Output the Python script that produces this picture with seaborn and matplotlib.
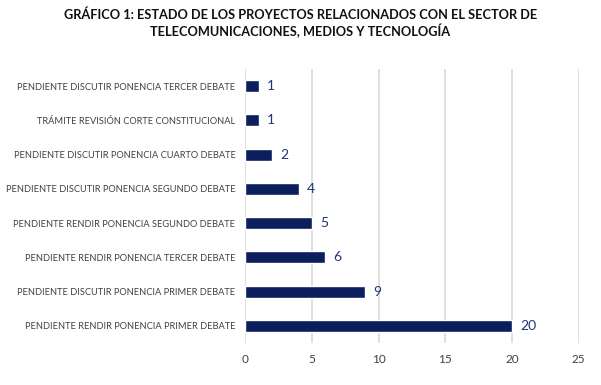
import matplotlib
matplotlib.use("Agg")
import matplotlib.pyplot as plt
import pandas as pd
import seaborn as sns

# data (top to bottom as shown)
categories = [
    "PENDIENTE DISCUTIR PONENCIA TERCER DEBATE",
    "TRÁMITE REVISIÓN CORTE CONSTITUCIONAL",
    "PENDIENTE DISCUTIR PONENCIA CUARTO DEBATE",
    "PENDIENTE DISCUTIR PONENCIA SEGUNDO DEBATE",
    "PENDIENTE RENDIR PONENCIA SEGUNDO DEBATE",
    "PENDIENTE RENDIR PONENCIA TERCER DEBATE",
    "PENDIENTE DISCUTIR PONENCIA PRIMER DEBATE",
    "PENDIENTE RENDIR PONENCIA PRIMER DEBATE",
]
counts = [1, 1, 2, 4, 5, 6, 9, 20]
xticks = [0, 5, 10, 15, 20, 25]

df = pd.DataFrame({"estado": categories, "proyectos": counts})

sns.set_theme(style="white")
plt.rcParams["font.family"] = ["Lato", "DejaVu Sans"]

fig = plt.figure(figsize=(6.01, 3.85), dpi=100)
ax = fig.add_axes([0.408, 0.109, 0.555, 0.712])

sns.barplot(data=df, y="estado", x="proyectos", orient="h",
            color="#0B1F5C", width=0.35, saturation=1, ax=ax, zorder=3)

for i, v in enumerate(counts):
    ax.text(v + 0.6, i, str(v), va="center", ha="left",
            fontsize=10, color="#1F3570")

ax.set_xlim(0, 25)
ax.set_ylim(len(categories) - 0.5, -0.5)
ax.set_xticks(xticks)
ax.grid(axis="x", color="#D9D9D9", linewidth=1.2, zorder=0)
ax.grid(axis="y", visible=False)
for s in ax.spines.values():
    s.set_visible(False)
ax.tick_params(axis="y", length=0, pad=7, labelsize=6.65, labelcolor="#404040")
ax.tick_params(axis="x", length=0, pad=8, labelsize=8.5, labelcolor="#404040")
ax.set_xlabel("")
ax.set_ylabel("")

fig.text(0.5, 0.94, "GRÁFICO 1: ESTADO DE LOS PROYECTOS RELACIONADOS CON EL SECTOR DE\nTELECOMUNICACIONES, MEDIOS Y TECNOLOGÍA",
         ha="center", va="center", fontsize=9.2, fontweight="bold", color="#111111",
         linespacing=1.25)

fig.savefig("out.png", dpi=100, facecolor="white")
